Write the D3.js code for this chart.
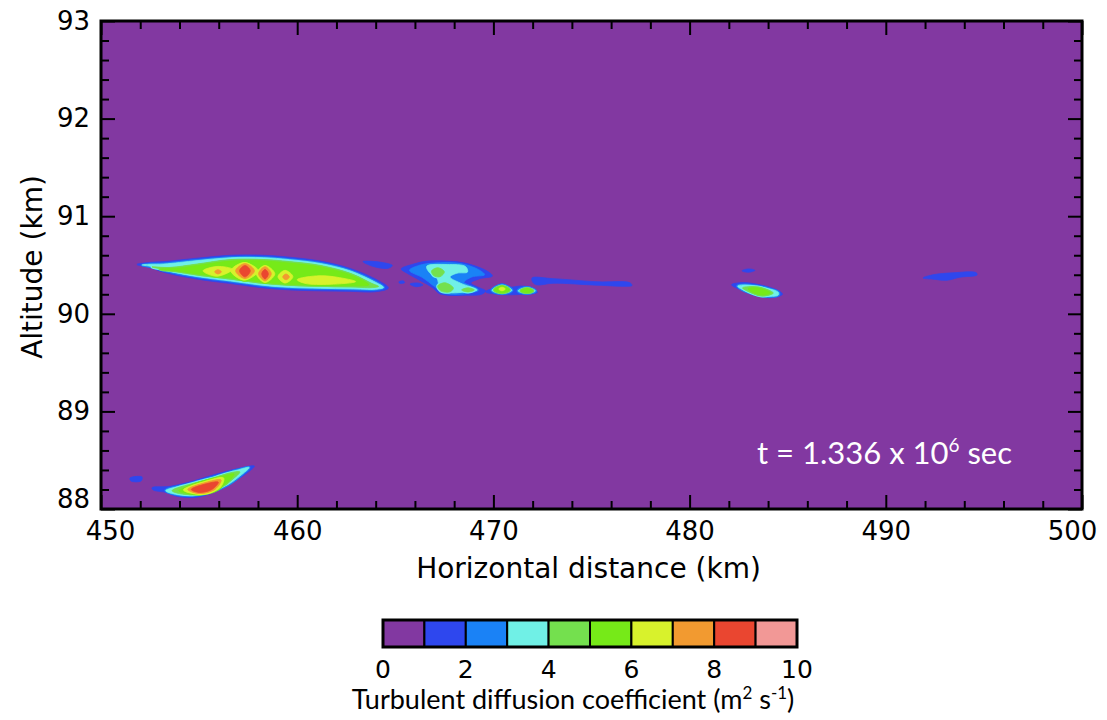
<!DOCTYPE html>
<html>
<head>
<meta charset="utf-8">
<script src="https://cdn.jsdelivr.net/npm/d3@7"></script>
<style>
  html, body { margin: 0; padding: 0; background: #ffffff; }
  svg { display: block; }
</style>
</head>
<body>
<svg id="chart" width="1107" height="720"></svg>
<script>
// ---- Axes / colour levels -------------------------------------------------
const xDomain = [450, 500];            // horizontal distance, km
const yDomain = [88, 93];              // altitude, km
const xMajorTicks = [450, 460, 470, 480, 490, 500];
const yMajorTicks = [88, 89, 90, 91, 92, 93];
const levelBounds = [0, 1, 2, 3, 4, 5, 6, 7, 8, 9, 10];   // m^2 s^-1
const levelColors = ["#8238a1", "#2e47ee", "#1a82f6", "#70f0e6", "#74e04e",
                     "#76ea18", "#d8f22c", "#f29a30", "#ea4630", "#f29896"];
const colorbarTicks = [0, 2, 4, 6, 8, 10];
const timeLabel = "1.336";

// ---- Filled contour outlines: level index + ring of [km, km] points ------
// main streak near 90.4 km
const mainStreak = [
  { level: 1, ring: [[451.83,90.505],[452.5,90.527],[453.2,90.535],[454.9,90.57],[456.6,90.6],[458.3,90.6],[459.6,90.58],[461.2,90.54],[462.7,90.465],[464.0,90.355],[464.65,90.265],[464.0,90.226],[462.7,90.23],[461.2,90.235],[459.6,90.245],[458.3,90.265],[456.6,90.31],[454.9,90.355],[453.2,90.425],[452.5,90.475]] },
  { level: 3, ring: [[452.1,90.50],[452.5,90.507],[453.2,90.51],[454.9,90.545],[456.6,90.575],[458.3,90.575],[459.6,90.555],[461.2,90.515],[462.7,90.44],[464.0,90.322],[464.4,90.27],[464.0,90.252],[462.7,90.256],[461.2,90.261],[459.6,90.271],[458.3,90.291],[456.6,90.336],[454.9,90.381],[453.2,90.447],[452.5,90.487]] },
  { level: 4, ring: [[452.6,90.48],[453.5,90.475],[454.9,90.51],[456.6,90.556],[458.3,90.556],[459.6,90.535],[461.2,90.495],[462.7,90.415],[463.8,90.312],[464.15,90.28],[463.8,90.268],[462.7,90.276],[461.2,90.281],[459.6,90.291],[458.3,90.311],[456.6,90.355],[454.9,90.397],[453.5,90.445]] },
  { level: 5, ring: [[453.0,90.458],[454.0,90.47],[454.9,90.495],[456.6,90.54],[458.3,90.542],[459.6,90.52],[461.2,90.48],[462.7,90.4],[463.65,90.298],[462.7,90.287],[461.2,90.292],[459.6,90.302],[458.3,90.322],[456.6,90.367],[454.9,90.408],[454.0,90.435]] },
  { level: 6, ring: [[455.2,90.44],[455.91,90.485],[456.7,90.455],[455.91,90.385]] },
  { level: 6, ring: [[456.62,90.44],[457.29,90.525],[458.02,90.44],[457.29,90.345]] },
  { level: 6, ring: [[457.92,90.41],[458.36,90.495],[458.86,90.41],[458.36,90.32]] },
  { level: 6, ring: [[459.02,90.38],[459.38,90.445],[459.78,90.38],[459.38,90.315]] },
  { level: 6, ring: [[460.0,90.35],[461.16,90.39],[462.44,90.36],[462.98,90.33],[461.67,90.302],[460.39,90.312]] },
  { level: 7, ring: [[456.86,90.44],[457.34,90.515],[457.82,90.44],[457.34,90.36]] },
  { level: 7, ring: [[458.03,90.41],[458.36,90.482],[458.68,90.41],[458.36,90.338]] },
  { level: 7, ring: [[459.26,90.378],[459.43,90.408],[459.6,90.378],[459.43,90.348]] },
  { level: 7, ring: [[455.79,90.43],[455.96,90.452],[456.14,90.43],[455.96,90.408]] },
  { level: 8, ring: [[457.06,90.44],[457.34,90.495],[457.61,90.44],[457.34,90.378]] },
  { level: 8, ring: [[458.19,90.41],[458.36,90.455],[458.53,90.41],[458.36,90.356]] }
];

// thin wisp above the tail of the main streak
const upperWisp = [
  { level: 1, ring: [[463.35,90.535],[464.2,90.53],[464.85,90.495],[464.6,90.465],[463.8,90.49]] }
];

// patch near 467 km
const patch467 = [
  { level: 1, ring: [[465.3,90.46],[465.9,90.508],[466.62,90.54],[467.64,90.54],[468.65,90.515],[469.7,90.435],[469.95,90.387],[469.32,90.36],[468.85,90.316],[469.32,90.264],[469.6,90.235],[469.4,90.2],[468.14,90.195],[467.28,90.203],[466.9,90.268],[466.26,90.342],[465.58,90.418]] },
  { level: 2, ring: [[465.72,90.445],[466.2,90.495],[467.0,90.52],[468.3,90.515],[469.25,90.452],[469.55,90.40],[468.9,90.378],[468.5,90.32],[469.2,90.25],[468.8,90.213],[467.5,90.21],[467.0,90.28],[466.4,90.37]] },
  { level: 3, ring: [[466.6,90.487],[467.64,90.505],[468.58,90.484],[468.68,90.428],[468.14,90.416],[467.79,90.377],[468.3,90.316],[469.18,90.244],[468.45,90.221],[467.64,90.221],[467.26,90.275],[467.12,90.367],[466.75,90.42]] },
  { level: 4, ring: [[466.85,90.44],[467.18,90.472],[467.5,90.43],[467.28,90.38],[466.95,90.392]] },
  { level: 4, ring: [[467.16,90.285],[467.53,90.318],[467.96,90.264],[467.79,90.225],[467.31,90.235]] },
  { level: 4, ring: [[468.38,90.244],[468.7,90.266],[469.03,90.244],[468.7,90.224]] },
  { level: 1, ring: [[465.75,90.305],[466.15,90.316],[466.41,90.295],[466.05,90.278]] },
  { level: 1, ring: [[465.18,90.327],[465.42,90.336],[465.47,90.318],[465.22,90.314]] }
];

// two small cores near 470-472 km
const cores471 = [
  { level: 1, ring: [[469.6,90.225],[470.1,90.274],[470.44,90.31],[470.85,90.274],[471.36,90.284],[471.8,90.274],[472.25,90.22],[471.36,90.198],[470.34,90.198]] },
  { level: 3, ring: [[469.93,90.24],[470.44,90.295],[470.94,90.24],[470.44,90.208]] },
  { level: 3, ring: [[471.26,90.235],[471.71,90.27],[472.14,90.235],[471.71,90.208]] },
  { level: 5, ring: [[470.05,90.244],[470.44,90.283],[470.82,90.244],[470.44,90.215]] },
  { level: 5, ring: [[471.4,90.236],[471.71,90.259],[472.01,90.236],[471.71,90.217]] },
  { level: 6, ring: [[470.27,90.254],[470.44,90.272],[470.61,90.254],[470.44,90.236]] }
];

// long thin streak 472-477 km
const streak475 = [
  { level: 1, ring: [[471.97,90.367],[473.04,90.36],[475.28,90.328],[476.96,90.318],[477.06,90.29],[476.96,90.283],[475.28,90.293],[473.04,90.313],[472.22,90.296],[472.02,90.32]] }
];

// patch near 483 km
const patch483 = [
  { level: 1, ring: [[482.67,90.44],[483.0,90.46],[483.33,90.445],[483.0,90.425]] },
  { level: 1, ring: [[482.14,90.297],[482.72,90.32],[483.94,90.28],[484.63,90.225],[484.73,90.198],[484.1,90.165],[483.44,90.187],[482.55,90.25]] },
  { level: 3, ring: [[482.45,90.284],[482.82,90.296],[483.94,90.262],[484.52,90.22],[484.52,90.192],[483.99,90.178],[483.33,90.2],[482.65,90.252]] },
  { level: 4, ring: [[482.7,90.266],[483.44,90.274],[484.27,90.213],[483.74,90.183],[483.06,90.222]] },
  { level: 5, ring: [[482.98,90.256],[483.5,90.264],[484.12,90.215],[483.7,90.193],[483.18,90.224]] }
];

// streak near 493 km
const streak493 = [
  { level: 1, ring: [[491.9,90.367],[492.41,90.4],[493.43,90.42],[494.6,90.422],[494.65,90.398],[493.78,90.375],[493.12,90.344],[492.41,90.355]] }
];

// low-level patch near 88.2 km
const lowPatch = [
  { level: 1, ring: [[451.48,88.318],[452.09,88.328],[452.04,88.287],[451.53,88.287]] },
  { level: 1, ring: [[452.6,88.218],[453.52,88.232],[454.69,88.287],[455.91,88.36],[456.93,88.412],[457.82,88.44],[457.28,88.345],[456.57,88.258],[455.56,88.16],[454.89,88.12],[453.87,88.13],[453.36,88.168],[452.65,88.196]] },
  { level: 3, ring: [[453.3,88.188],[454.54,88.258],[455.81,88.33],[456.93,88.398],[457.55,88.425],[457.08,88.338],[456.47,88.25],[455.56,88.172],[454.79,88.142],[453.87,88.148]] },
  { level: 4, ring: [[453.62,88.188],[454.79,88.268],[455.81,88.322],[456.68,88.375],[457.08,88.38],[456.47,88.27],[455.56,88.182],[454.79,88.148],[454.0,88.158]] },
  { level: 5, ring: [[453.95,88.186],[455.05,88.266],[456.07,88.328],[456.78,88.358],[456.37,88.262],[455.56,88.188],[454.79,88.156]] },
  { level: 6, ring: [[454.2,88.195],[455.3,88.282],[456.25,88.318],[456.05,88.215],[455.0,88.152]] },
  { level: 7, ring: [[454.42,88.2],[455.3,88.27],[456.12,88.298],[455.8,88.2],[455.0,88.16]] },
  { level: 8, ring: [[454.6,88.2],[455.3,88.255],[455.98,88.275],[455.65,88.2],[455.0,88.17]] }
];

const features = [mainStreak, upperWisp, patch467, cores471, streak475, patch483, streak493, lowPatch];

// ---- Layout -------------------------------------------------------------
const svg = d3.select("#chart");
const plot = { left: 101, right: 1082, top: 21, bottom: 509 };

const x = d3.scaleLinear().domain(xDomain).range([plot.left, plot.right]);
const y = d3.scaleLinear().domain(yDomain).range([plot.bottom, plot.top]);
const color = d3.scaleOrdinal().domain(d3.range(levelColors.length)).range(levelColors);

svg.append("rect").attr("width", 1107).attr("height", 720).attr("fill", "#ffffff");

svg.append("defs").append("clipPath").attr("id", "plot-clip")
  .append("rect")
  .attr("x", plot.left).attr("y", plot.top)
  .attr("width", plot.right - plot.left).attr("height", plot.bottom - plot.top);

// background = lowest level (0-1)
svg.append("rect")
  .attr("x", x(xDomain[0])).attr("y", y(yDomain[1]))
  .attr("width", x(xDomain[1]) - x(xDomain[0]))
  .attr("height", y(yDomain[0]) - y(yDomain[1]))
  .attr("fill", color(0));

const ringPath = d3.line()
  .x(d => x(d[0]))
  .y(d => y(d[1]))
  .curve(d3.curveCatmullRomClosed.alpha(0.5));

const contourG = svg.append("g").attr("clip-path", "url(#plot-clip)");
const allRings = features.flat();
const maxLevel = d3.max(allRings, d => d.level);
for (let k = 1; k <= maxLevel; k++) {
  const rings = allRings.filter(d => d.level === k);
  if (k > 1) {
    // thin band of the level just below, along each outline
    contourG.selectAll(null).data(rings).join("path")
      .attr("d", d => ringPath(d.ring))
      .attr("fill", "none")
      .attr("stroke", color(k - 1))
      .attr("stroke-width", 3)
      .attr("stroke-linejoin", "round");
  }
  contourG.selectAll(null).data(rings).join("path")
    .attr("d", d => ringPath(d.ring))
    .attr("fill", color(k))
    .attr("stroke", color(k))
    .attr("stroke-width", 0.8)
    .attr("stroke-linejoin", "round");
}

// ---- Ticks (inside, on all four sides) ------------------------------------
const tickFont = "'DejaVu Sans', sans-serif";
const xMinor = x.ticks(25).filter(v => !xMajorTicks.includes(v));
const yMinor = y.ticks(25).filter(v => !yMajorTicks.some(m => Math.abs(m - v) < 1e-9));

function styleAxis(g) {
  g.select(".domain").remove();
  g.selectAll(".tick line").attr("stroke", "#000").attr("stroke-width", 2);
  g.selectAll(".tick text").attr("fill", "#000")
    .style("font-family", tickFont).style("font-size", "26px");
}

svg.append("g").attr("transform", `translate(0,${plot.bottom})`)
  .call(d3.axisBottom(x).tickValues(xMinor).tickSize(-8).tickFormat(""))
  .call(styleAxis);
svg.append("g").attr("transform", `translate(0,${plot.top})`)
  .call(d3.axisTop(x).tickValues(xMinor).tickSize(-8).tickFormat(""))
  .call(styleAxis);
svg.append("g").attr("transform", `translate(${plot.left},0)`)
  .call(d3.axisLeft(y).tickValues(yMinor).tickSize(-8).tickFormat(""))
  .call(styleAxis);
svg.append("g").attr("transform", `translate(${plot.right},0)`)
  .call(d3.axisRight(y).tickValues(yMinor).tickSize(-8).tickFormat(""))
  .call(styleAxis);

const xAxisG = svg.append("g").attr("transform", `translate(0,${plot.bottom})`)
  .call(d3.axisBottom(x).tickValues(xMajorTicks).tickSize(-14).tickPadding(13).tickFormat(d3.format("d")))
  .call(styleAxis);
svg.append("g").attr("transform", `translate(0,${plot.top})`)
  .call(d3.axisTop(x).tickValues(xMajorTicks).tickSize(-14).tickFormat(""))
  .call(styleAxis);
const yAxisG = svg.append("g").attr("transform", `translate(${plot.left},0)`)
  .call(d3.axisLeft(y).tickValues(yMajorTicks).tickSize(-14).tickPadding(11).tickFormat(d3.format("d")))
  .call(styleAxis);
svg.append("g").attr("transform", `translate(${plot.right},0)`)
  .call(d3.axisRight(y).tickValues(yMajorTicks).tickSize(-14).tickFormat(""))
  .call(styleAxis);

// end labels sit just inside the frame corners
xAxisG.selectAll(".tick text")
  .attr("dx", d => d === xDomain[0] ? 9 : d === xDomain[1] ? -10 : 0);
yAxisG.selectAll(".tick text")
  .attr("dy", d => d === yDomain[0] ? "-0.05em" : "0.32em");

// frame
svg.append("rect")
  .attr("x", plot.left).attr("y", plot.top)
  .attr("width", plot.right - plot.left).attr("height", plot.bottom - plot.top)
  .attr("fill", "none").attr("stroke", "#000").attr("stroke-width", 3);

// ---- Axis titles ----------------------------------------------------------
svg.append("text")
  .attr("x", (plot.left + plot.right) / 2 - 3).attr("y", 578)
  .attr("text-anchor", "middle")
  .style("font-family", tickFont).style("font-size", "28px")
  .text("Horizontal distance (km)");

svg.append("text")
  .attr("transform", `translate(42,${(plot.top + plot.bottom) / 2 + 2}) rotate(-90)`)
  .attr("text-anchor", "middle")
  .style("font-family", tickFont).style("font-size", "28px")
  .text("Altitude (km)");

// ---- Time annotation -------------------------------------------------------
const tText = svg.append("text")
  .attr("x", 757).attr("y", 464)
  .attr("fill", "#ffffff")
  .style("font-family", "Lato, sans-serif").style("font-size", "31px");
tText.append("tspan").text(`t = ${timeLabel} x 10`);
tText.append("tspan").attr("dy", -12).style("font-size", "19px").text("6");
tText.append("tspan").attr("dy", 12).text(" sec");

// ---- Colour bar -------------------------------------------------------------
const cb = d3.scaleLinear().domain([levelBounds[0], levelBounds[levelBounds.length - 1]]).range([383, 797]);
const cbTop = 620, cbHeight = 27;
const cbG = svg.append("g");
cbG.selectAll("rect.cell")
  .data(d3.pairs(levelBounds))
  .join("rect")
  .attr("class", "cell")
  .attr("x", d => cb(d[0])).attr("y", cbTop)
  .attr("width", d => cb(d[1]) - cb(d[0])).attr("height", cbHeight)
  .attr("fill", (d, i) => color(i))
  .attr("stroke", "#000").attr("stroke-width", 2);
cbG.append("rect")
  .attr("x", cb(0)).attr("y", cbTop)
  .attr("width", cb(10) - cb(0)).attr("height", cbHeight)
  .attr("fill", "none").attr("stroke", "#000").attr("stroke-width", 3);

cbG.selectAll("text.cbtick")
  .data(colorbarTicks)
  .join("text")
  .attr("class", "cbtick")
  .attr("x", d => cb(d)).attr("y", 678)
  .attr("text-anchor", "middle")
  .style("font-family", tickFont).style("font-size", "25px")
  .text(d => d);

const cbTitle = svg.append("text")
  .attr("x", 573).attr("y", 709)
  .attr("text-anchor", "middle")
  .style("font-family", "Lato, sans-serif").style("font-size", "27px");
cbTitle.append("tspan").text("Turbulent diffusion coefficient (m");
cbTitle.append("tspan").attr("dy", -10).style("font-size", "17px").text("2");
cbTitle.append("tspan").attr("dy", 10).text(" s");
cbTitle.append("tspan").attr("dy", -10).style("font-size", "17px").text("-1");
cbTitle.append("tspan").attr("dy", 10).text(")");
</script>
</body>
</html>
